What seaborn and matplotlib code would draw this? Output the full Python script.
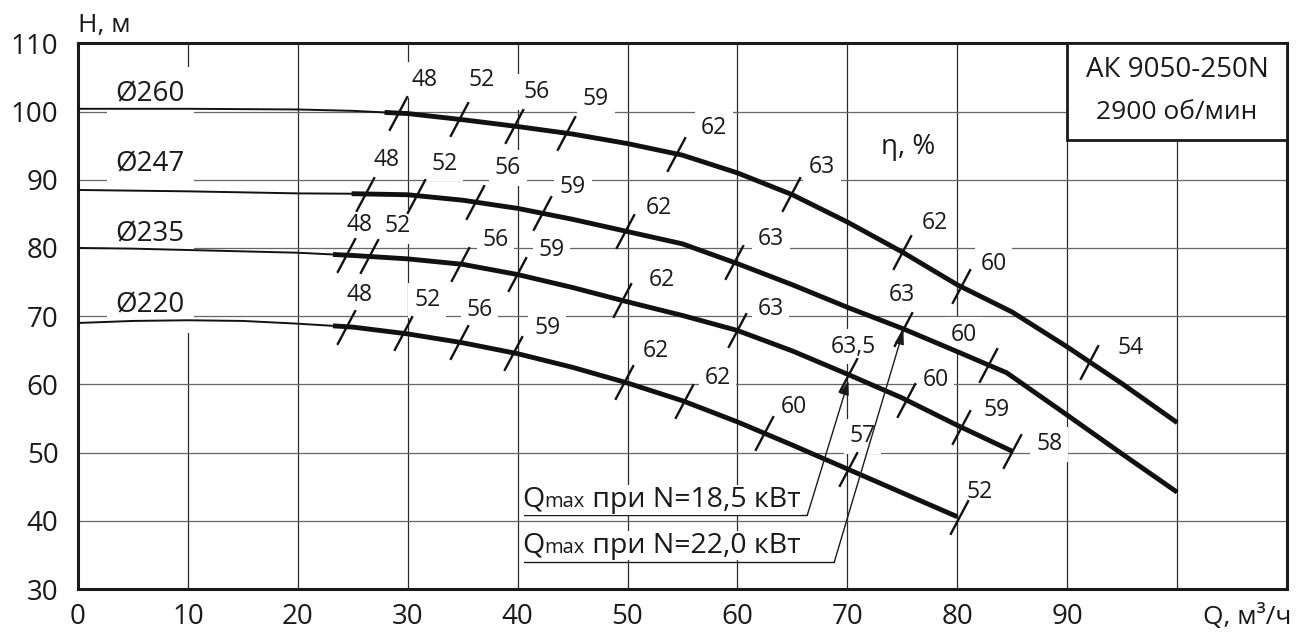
import numpy as np
import pandas as pd
import matplotlib
matplotlib.use('Agg')
import matplotlib.pyplot as plt
import seaborn as sns
from matplotlib.path import Path
from matplotlib.patches import Rectangle
from matplotlib.offsetbox import TextArea, HPacker, AnnotationBbox

# head curves H(Q) for each impeller diameter
diameters = ['Ø260', 'Ø247', 'Ø235', 'Ø220']

q_260 = [0, 5, 10, 15, 20, 25, 30, 35, 40, 45, 50, 55, 60, 65, 70, 75, 80, 85, 90, 95, 100]
h_260 = [100.4, 100.4, 100.4, 100.35, 100.3, 100.1, 99.7, 98.8, 97.8, 96.7, 95.3, 93.6, 91.0,
         87.8, 83.8, 79.4, 74.6, 70.6, 65.5, 60.1, 54.4]

q_247 = [0, 5, 10, 15, 20, 25, 30, 35, 40, 45, 50, 55, 60, 65, 70, 75, 80, 84.5, 90, 95, 100]
h_247 = [88.5, 88.4, 88.3, 88.15, 88.0, 87.95, 87.8, 87.0, 85.8, 84.2, 82.4, 80.6, 77.7,
         74.6, 71.3, 68.2, 64.8, 61.7, 55.5, 49.8, 44.2]

q_235 = [0, 5, 10, 15, 20, 25, 30, 35, 40, 45, 50, 55, 60, 65, 70, 75, 80, 85]
h_235 = [80.0, 79.9, 79.7, 79.5, 79.3, 78.9, 78.4, 77.6, 76.1, 74.2, 72.1, 70.1, 67.9,
         64.9, 61.5, 58.0, 54.0, 50.2]

q_220 = [0, 5, 10, 15, 20, 25, 30, 35, 40, 45, 50, 55, 60, 65, 70, 75, 80]
h_220 = [69.0, 69.3, 69.4, 69.3, 68.9, 68.4, 67.4, 66.1, 64.5, 62.5, 60.2, 57.6, 54.5,
         51.1, 47.6, 44.1, 40.6]

# efficiency marks (Q where the mark crosses the curve, eta label)
eta_q_260 = [29.1, 34.7, 39.7, 44.4, 54.4, 64.9, 75.0, 80.3, 92.0]
eta_260 = ['48', '52', '56', '59', '62', '63', '62', '60', '54']
eta_q_247 = [26.1, 30.8, 36.1, 42.2, 49.8, 59.7, 75.1, 82.8]
eta_247 = ['48', '52', '56', '59', '62', '63', '63', '60']
eta_q_235 = [24.4, 26.5, 34.8, 39.9, 49.5, 60.0, 70.1, 75.3, 80.3, 85.0]
eta_235 = ['48', '52', '56', '59', '62', '63', '63,5', '60', '59', '58']
eta_q_220 = [24.4, 29.6, 34.7, 39.6, 49.7, 55.1, 62.4, 70.1, 80.2]
eta_220 = ['48', '52', '56', '59', '62', '62', '60', '57', '52']

q_ticks = ['0', '10', '20', '30', '40', '50', '60', '70', '80', '90', '', '']

curves = [(q_260, h_260, eta_q_260, eta_260),
          (q_247, h_247, eta_q_247, eta_247),
          (q_235, h_235, eta_q_235, eta_235),
          (q_220, h_220, eta_q_220, eta_220)]

# label placement (pixels from the mark, right / up)
label_offsets = [
    [(27, 33), (22, 39), (22, 34), (30, 34), (38, 26), (31, 27), (33, 29), (33, 22), (41, 14)],
    [(22, 34), (28, 32), (33, 34), (31, 26), (34, 23), (37, 23), (-2, 34), (-24, 30)],
    [(13, 30), (28, 30), (35, 24), (35, 24), (40, 20), (33, 21), (5, 28), (30, 20), (36, 17), (37, 7)],
    [(13, 32), (24, 33), (20, 32), (34, 25), (32, 31), (34, 23), (30, 26), (14, 33), (20, 25)],
]
diam_label_y = [101.45, 91.2, 80.95, 70.5]

sns.set_style('white')
plt.rcParams['font.family'] = ['Open Sans', 'DejaVu Sans']
plt.rcParams['text.color'] = '#1a1a1a'

fig = plt.figure(figsize=(12.97, 6.35), dpi=100)
ax = fig.add_axes([0.0601, 0.0724, 0.9322, 0.8594])

# long table for seaborn: full curve (thin) and operating part (thick)
rows_thin, rows_thick = [], []
for d, (q, h, eq, _) in zip(diameters, curves):
    for qi, hi in zip(q, h):
        rows_thin.append((d, qi, hi))
    q0 = eq[0] - 1.2
    rows_thick.append((d, q0, float(np.interp(q0, q, h))))
    for qi, hi in zip(q, h):
        if qi > q0:
            rows_thick.append((d, qi, hi))
thin = pd.DataFrame(rows_thin, columns=['D', 'Q', 'H'])
thick = pd.DataFrame(rows_thick, columns=['D', 'Q', 'H'])
pal = {d: '#111111' for d in diameters}

sns.lineplot(data=thin, x='Q', y='H', hue='D', palette=pal, estimator=None, sort=False,
             linewidth=1.4, legend=False, ax=ax, zorder=3)
sns.lineplot(data=thick, x='Q', y='H', hue='D', palette=pal, estimator=None, sort=False,
             linewidth=3.5, legend=False, ax=ax, zorder=3, solid_capstyle='butt')

# slanted efficiency marks
tick_mark = Path([(-0.265, -0.5), (0.265, 0.5)], [Path.MOVETO, Path.LINETO])
for (q, h, eq, et), offs in zip(curves, label_offsets):
    eh = np.interp(eq, q, h)
    ax.plot(eq, eh, ls='none', marker=tick_mark, ms=25, mew=1.7, mec='#111111',
            mfc='none', zorder=4)
    for qi, hi, txt, (dx, dy) in zip(eq, eh, et, offs):
        ax.annotate(txt, (qi, hi), xytext=(dx, dy), textcoords='offset pixels',
                    ha='center', va='center', fontsize=16.5, zorder=2,
                    bbox=dict(boxstyle='square,pad=0.25', fc='white', ec='none'))

# diameter labels on a white patch over the grid
ax.add_patch(Rectangle((2.6, 67.5), 8.0, 39.0, fc='white', ec='none', zorder=1))
for d, y in zip(diameters, diam_label_y):
    ax.text(3.4, y, d, fontsize=20, ha='left', va='baseline', zorder=5)

# pump name box
ax.add_patch(Rectangle((90, 95.8), 20, 14.2, fc='white', ec='#1a1a1a', lw=2.0, zorder=5))
ax.text(100, 106.1, 'АК 9050-250N', fontsize=20, ha='center', va='center', zorder=6)
ax.text(100, 99.8, '2900 об/мин', fontsize=19, ha='center', va='center', zorder=6)
ax.text(75.5, 94.8, 'η, %', fontsize=20, ha='center', va='center', zorder=5)


# Qmax leaders
def qmax_label(rest, xy):
    parts = [TextArea('Q', textprops=dict(fontsize=20.5, color='#1a1a1a')),
             TextArea('max', textprops=dict(fontsize=14.5, color='#1a1a1a')),
             TextArea(' при N=' + rest + ' кВт', textprops=dict(fontsize=20.5, color='#1a1a1a'))]
    box = HPacker(children=parts, align='baseline', pad=0, sep=0)
    ab = AnnotationBbox(box, xy, xycoords='data', box_alignment=(0, 0), frameon=True,
                        pad=0.05, bboxprops=dict(fc='white', ec='none'), zorder=5)
    ax.add_artist(ab)


tip1 = (eta_q_235[6], float(np.interp(eta_q_235[6], q_235, h_235)) - 0.9)
tip2 = (eta_q_247[6], float(np.interp(eta_q_247[6], q_247, h_247)) - 0.2)
ax.plot([40.6, 66.35], [40.8, 40.8], color='#1a1a1a', lw=1.0, zorder=4)
ax.plot([40.6, 68.8], [33.9, 33.9], color='#1a1a1a', lw=1.0, zorder=4)
arrow = dict(arrowstyle='-|>,head_length=0.6,head_width=0.2', color='#1a1a1a', lw=1.0,
             shrinkA=0, shrinkB=0, mutation_scale=14)
ax.annotate('', xy=tip1, xytext=(66.35, 40.8), arrowprops=arrow, zorder=4)
ax.annotate('', xy=tip2, xytext=(68.8, 33.9), arrowprops=arrow, zorder=4)
qmax_label('18,5', (40.4, 41.0))
qmax_label('22,0', (40.4, 34.3))

# axes
ax.set_xlim(0, 110)
ax.set_ylim(30, 110)
ax.set_xticks(range(0, 120, 10))
ax.set_xticklabels(q_ticks)
ax.set_yticks(range(30, 120, 10))
ax.set_axisbelow(True)
ax.xaxis.grid(True, color='#2a2a2a', lw=0.9)
ax.yaxis.grid(True, color='#666666', lw=0.9)
ax.tick_params(axis='both', length=0, labelsize=20, colors='#1a1a1a')
ax.tick_params(axis='y', pad=14)
ax.tick_params(axis='x', pad=10)
ax.set_xlabel('')
ax.set_ylabel('')
for s in ax.spines.values():
    s.set_visible(True)
    s.set_linewidth(2.2)
    s.set_color('#1a1a1a')

ax.text(0.0, 1.02, 'H, м', transform=ax.transAxes, fontsize=19, ha='left', va='baseline')
ax.text(1.004, -0.052, 'Q, м³/ч', transform=ax.transAxes, fontsize=19, ha='right', va='center')

fig.savefig('out.png', dpi=100)
